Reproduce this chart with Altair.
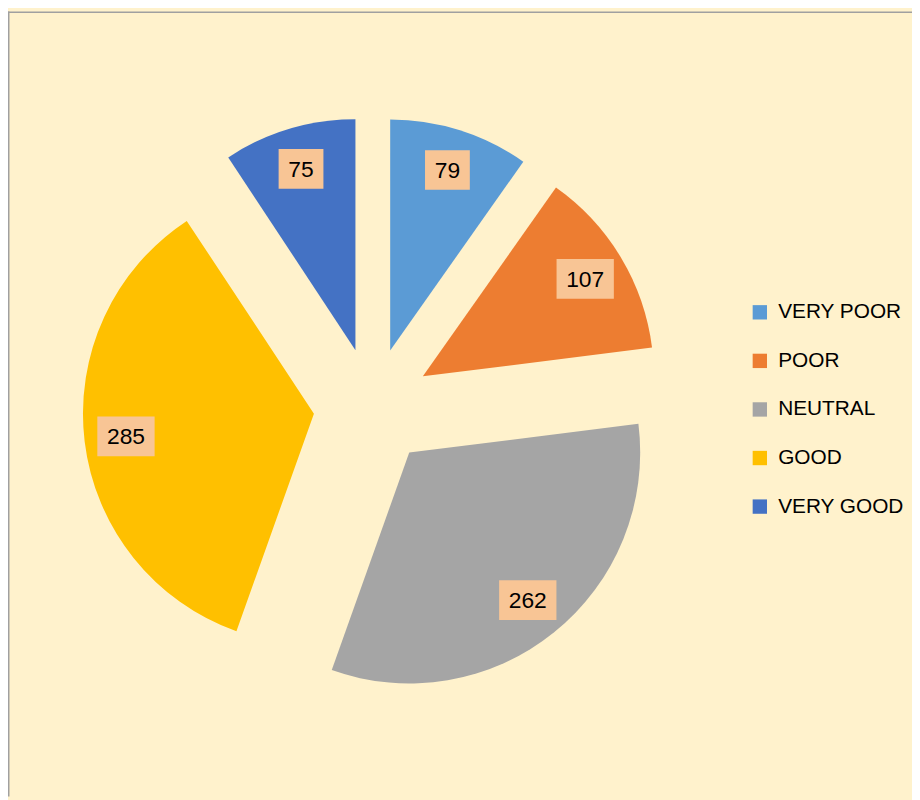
import math
import altair as alt
import pandas as pd

categories = ["VERY POOR", "POOR", "NEUTRAL", "GOOD", "VERY GOOD"]
values = [79, 107, 262, 285, 75]
colors = ["#5B9BD5", "#ED7D31", "#A5A5A5", "#FFC000", "#4472C4"]

W, H = 912, 792
CX, CY = 367.6, 398.6
R = 233
EXPLODE = 59.4
LABEL_R = 191
total = sum(values)

df = pd.DataFrame({"category": categories, "value": values, "order": list(range(len(categories)))})

base = (
    alt.Chart(df)
    .transform_window(cum="sum(value)", sort=[alt.SortField("order")], frame=[None, 0])
    .transform_calculate(start="datum.cum - datum.value")
    .transform_calculate(mid=f"2*PI*(datum.cum - datum.value/2)/{total}")
    .transform_calculate(cx=f"{CX} + {EXPLODE}*sin(datum.mid)")
    .transform_calculate(cy=f"{CY} - {EXPLODE}*cos(datum.mid)")
    .transform_calculate(lx=f"datum.cx + {LABEL_R}*sin(datum.mid)")
    .transform_calculate(ly=f"datum.cy - {LABEL_R}*cos(datum.mid)")
    .transform_calculate(bw="length(toString(datum.value))*12.6 + 20")
    .transform_calculate(bx0="datum.lx - datum.bw/2")
    .transform_calculate(bx1="datum.lx + datum.bw/2")
    .transform_calculate(by0="datum.ly - 20")
    .transform_calculate(by1="datum.ly + 20")
)

pie = base.mark_arc(outerRadius=R, innerRadius=0, strokeWidth=0).encode(
    theta=alt.Theta("start:Q", scale=alt.Scale(domain=[0, total], range=[0, 2 * math.pi])),
    theta2="cum:Q",
    x=alt.X("cx:Q", scale=None),
    y=alt.Y("cy:Q", scale=None),
    color=alt.Color(
        "category:N",
        scale=alt.Scale(domain=categories, range=colors),
        legend=alt.Legend(
            orient="none",
            legendX=748,
            legendY=293,
            title=None,
            symbolType="square",
            symbolSize=210,
            symbolStrokeWidth=0,
            labelFontSize=21,
            labelFont="Liberation Sans",
            labelColor="#000000",
            labelOffset=8,
            rowPadding=27,
            padding=0,
            labelLimit=300,
        ),
    ),
)

boxes = base.mark_rect(color="#F8C595").encode(
    x=alt.X("bx0:Q", scale=None),
    x2="bx1:Q",
    y=alt.Y("by0:Q", scale=None),
    y2="by1:Q",
)

labels = base.mark_text(
    fontSize=23, font="Liberation Sans", color="#000000", align="center", baseline="middle", dy=1
).encode(
    x=alt.X("lx:Q", scale=None),
    y=alt.Y("ly:Q", scale=None),
    text="value:Q",
)

edge = alt.Chart(alt.Data(values=[{"k": 1}]))
left_rule = edge.mark_rule(color="#A0A0A0", strokeWidth=1.5).encode(
    x=alt.value(0.75), y=alt.value(0), y2=alt.value(H)
)
top_rule = edge.mark_rule(color="#A0A0A0", strokeWidth=1.5).encode(
    x=alt.value(0), x2=alt.value(W), y=alt.value(0.75)
)

chart = (
    alt.layer(pie, boxes, labels, left_rule, top_rule)
    .properties(
        width=W,
        height=H,
        background="#FFF2CC",
        padding=0,
        autosize=alt.AutoSizeParams(type="none"),
    )
    .configure_view(strokeWidth=0)
)

chart.save("out.html", embed_options={"renderer": "svg", "actions": False})
